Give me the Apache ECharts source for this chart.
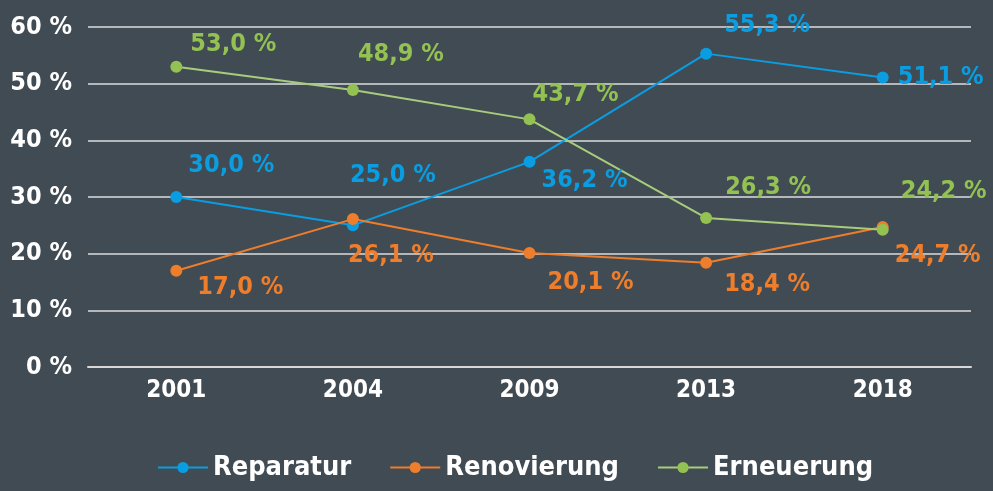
<!DOCTYPE html>
<html>
<head>
<meta charset="utf-8">
<script src="https://cdn.jsdelivr.net/npm/echarts@6/dist/echarts.min.js"></script>
<style>
  html, body { margin: 0; padding: 0; background: #414b53; }
  #chart { width: 993px; height: 491px; }
</style>
</head>
<body>
<div id="chart"></div>
<script>
var years = ['2001', '2004', '2009', '2013', '2018']
var reparatur = [30.0, 25.0, 36.2, 55.3, 51.1]
var renovierung = [17.0, 26.1, 20.1, 18.4, 24.7]
var erneuerung = [53.0, 48.9, 43.7, 26.3, 24.2]
var yTicks = [0, 10, 20, 30, 40, 50, 60]

// label offsets (px) from each point, per series
var offRep = [[55, -32], [40, -50], [55, 19], [61, -28], [58, 0]]
var offRen = [[64, 17], [38, 36], [61, 29], [61, 22], [55, 28]]
var offErn = [[57, -22], [48, -35], [46, -25], [62, -30], [61, -38]]

var FONT = '"DejaVu Sans Condensed", "Liberation Sans Narrow", sans-serif'

function fmt(v) {
  return v.toFixed(1).replace('.', ',') + ' %'
}

function build(values, offsets) {
  return values.map(function(v, i) {
    return {
      value: v,
      label: { offset: offsets[i] }
    }
  })
}

function makeSeries(name, values, offsets, color, lineColor) {
  return {
    name: name,
    type: 'line',
    data: build(values, offsets),
    symbol: 'circle',
    symbolSize: 12,
    lineStyle: { color: lineColor, width: 2 },
    itemStyle: { color: color },
    label: {
      show: true,
      position: 'inside',
      color: color,
      fontFamily: FONT,
      fontWeight: 'bold',
      fontSize: 25,
      formatter: function(p) { return fmt(p.value) }
    }
  }
}

var chart = echarts.init(document.getElementById('chart'))
chart.setOption({
  backgroundColor: '#414b53',
  animation: false,
  grid: { left: 88, right: 22, top: 27, bottom: 124, containLabel: false },
  legend: {
    bottom: 5,
    left: 152,
    itemWidth: 50,
    itemHeight: 14,
    itemGap: 38,
    textStyle: { color: '#ffffff', fontFamily: FONT, fontWeight: 'bold', fontSize: 27 },
    data: ['Reparatur', 'Renovierung', 'Erneuerung']
  },
  xAxis: {
    type: 'category',
    data: years,
    boundaryGap: true,
    axisLine: { lineStyle: { color: '#d8d8d8', width: 2 } },
    axisTick: { alignWithLabel: true, inside: true, length: 4, lineStyle: { color: '#d8d8d8' } },
    axisLabel: { color: '#ffffff', fontFamily: FONT, fontWeight: 'bold', fontSize: 24, margin: 12 }
  },
  yAxis: {
    type: 'value',
    min: yTicks[0],
    max: yTicks[yTicks.length - 1],
    interval: 10,
    axisLine: { show: false },
    axisTick: { show: false },
    splitLine: { lineStyle: { color: '#dcdcdc', width: 1.5 } },
    axisLabel: {
      color: '#ffffff', fontFamily: FONT, fontWeight: 'bold', fontSize: 25, margin: 16,
      formatter: '{value} %'
    }
  },
  series: [
    makeSeries('Reparatur', reparatur, offRep, '#0a9de2', '#0a9de2'),
    makeSeries('Renovierung', renovierung, offRen, '#ee7d2c', '#ee7d2c'),
    makeSeries('Erneuerung', erneuerung, offErn, '#93c152', '#a8cc7c')
  ]
})
</script>
</body>
</html>
